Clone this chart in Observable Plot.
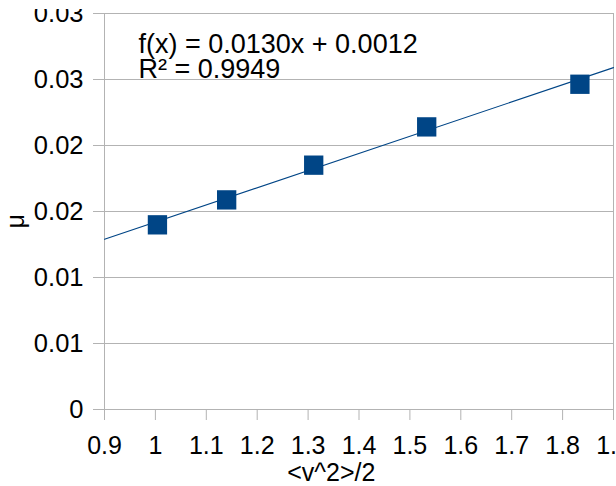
<!DOCTYPE html>
<html>
<head>
<meta charset="utf-8">
<script src="https://cdn.jsdelivr.net/npm/d3@7"></script>
<script src="https://cdn.jsdelivr.net/npm/@observablehq/plot@0.6"></script>
<style>
  html, body { margin: 0; padding: 0; background: #fff; overflow: hidden; }
  #chart svg { display: block; font-family: "Liberation Sans", Arial, sans-serif; clip-path: inset(9px 0 0 0); }
</style>
</head>
<body>
<div id="chart"></div>
<script>
// Data
const xValues = [1.004, 1.140, 1.311, 1.533, 1.834];
const yValues = [0.01399, 0.01588, 0.01851, 0.02141, 0.02464];
// Trend line (as printed on the chart)
const slope = 0.0130;
const intercept = 0.0012;
const equationText = "f(x) = 0.0130x + 0.0012\nR² = 0.9949";
// Axes
const xTicks = [0.9, 1.0, 1.1, 1.2, 1.3, 1.4, 1.5, 1.6, 1.7, 1.8, 1.9];
const xTickLabels = ["0.9", "1", "1.1", "1.2", "1.3", "1.4", "1.5", "1.6", "1.7", "1.8", "1.9"];
const yTicks = [0, 0.005, 0.01, 0.015, 0.02, 0.025, 0.03];
const yTickLabels = ["0", "0.01", "0.01", "0.02", "0.02", "0.03", "0.03"];
const xDomain = [0.9, 1.9];
const yDomain = [0, 0.03];
const xTitle = "<v^2>/2";
const yTitle = "μ";

const points = xValues.map((x, i) => ({x, y: yValues[i]}));
const trend = xDomain.map(x => ({x, y: slope * x + intercept}));
const grid = "#b3b3b3";
const blue = "#004586";

const chart = Plot.plot({
  width: 616,
  height: 486,
  marginLeft: 104,
  marginRight: 3,
  marginTop: 13,
  marginBottom: 77,
  style: {fontFamily: "'Liberation Sans', Arial, sans-serif", background: "#fff"},
  x: {type: "linear", domain: xDomain},
  y: {type: "linear", domain: yDomain},
  marks: [
    Plot.gridY(yTicks, {stroke: grid, strokeOpacity: 1, strokeWidth: 1}),
    Plot.ruleX([xDomain[0], xDomain[1]], {stroke: grid, strokeWidth: 1}),
    Plot.ruleY([yDomain[0]], {stroke: grid, strokeWidth: 1}),
    Plot.axisX(xTicks, {
      tickSize: 11, tickPadding: 16, stroke: grid, fill: "#000",
      fontSize: 25, label: null,
      tickFormat: (d, i) => xTickLabels[i]
    }),
    Plot.axisY(yTicks, {
      tickSize: 11, tickPadding: 10, stroke: grid, fill: "#000",
      fontSize: 25.5, label: null,
      tickFormat: (d, i) => yTickLabels[i]
    }),
    Plot.line(trend, {x: "x", y: "y", stroke: blue, strokeWidth: 1.1}),
    Plot.dot(points, {x: "x", y: "y", symbol: "square", r: 10.9, fill: blue, stroke: "none"}),
    Plot.text([equationText], {
      frameAnchor: "top-left", dx: 34, dy: 21.5, textAnchor: "start",
      lineAnchor: "top", fontSize: 27, lineHeight: 0.926, fill: "#000"
    }),
    Plot.text([xTitle], {frameAnchor: "bottom", dx: -27.7, dy: 71.3, fontSize: 25, fill: "#000"}),
    Plot.text([yTitle], {frameAnchor: "left", dx: -88.5, dy: 17, rotate: -90, fontSize: 25, fill: "#000"})
  ]
});
document.getElementById("chart").appendChild(chart);
</script>
</body>
</html>
